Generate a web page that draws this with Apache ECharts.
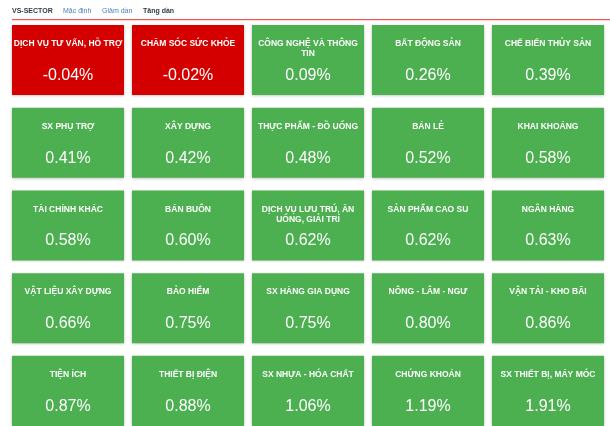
<!DOCTYPE html>
<html>
<head>
<meta charset="utf-8">
<script src="https://cdn.jsdelivr.net/npm/echarts@6/dist/echarts.min.js"></script>
<style>
  html, body { margin: 0; padding: 0; background: #fff; }
  #chart { width: 610px; height: 426px; }
</style>
</head>
<body>
<div id="chart"></div>
<script>
const headerTabs = ['VS-SECTOR', 'Mặc định', 'Giảm dần', 'Tăng dần'];
const categories = [
  'DỊCH VỤ TƯ VẤN, HỖ TRỢ', 'CHĂM SÓC SỨC KHỎE', 'CÔNG NGHỆ VÀ THÔNG\nTIN', 'BẤT ĐỘNG SẢN', 'CHẾ BIẾN THỦY SẢN',
  'SX PHỤ TRỢ', 'XÂY DỰNG', 'THỰC PHẨM - ĐỒ UỐNG', 'BÁN LẺ', 'KHAI KHOÁNG',
  'TÀI CHÍNH KHÁC', 'BÁN BUÔN', 'DỊCH VỤ LƯU TRÚ, ĂN\nUỐNG, GIẢI TRÍ', 'SẢN PHẨM CAO SU', 'NGÂN HÀNG',
  'VẬT LIỆU XÂY DỰNG', 'BẢO HIỂM', 'SX HÀNG GIA DỤNG', 'NÔNG - LÂM - NGƯ', 'VẬN TẢI - KHO BÃI',
  'TIỆN ÍCH', 'THIẾT BỊ ĐIỆN', 'SX NHỰA - HÓA CHẤT', 'CHỨNG KHOÁN', 'SX THIẾT BỊ, MÁY MÓC'
];
const values = [
  -0.04, -0.02, 0.09, 0.26, 0.39,
  0.41, 0.42, 0.48, 0.52, 0.58,
  0.58, 0.60, 0.62, 0.62, 0.63,
  0.66, 0.75, 0.75, 0.80, 0.86,
  0.87, 0.88, 1.06, 1.19, 1.91
];
const columnsPerRow = 5;

const chart = echarts.init(document.getElementById('chart'), null, { renderer: 'canvas' });
const data = values.map((v, i) => [i % columnsPerRow, Math.floor(i / columnsPerRow), v]);
const FONT = '"Liberation Sans", Arial, sans-serif';

function renderItem(params, api) {
  const c = api.coord([api.value(0), api.value(1)]);
  const s = api.size([1, 1]);
  const w = s[0] * 0.9333, h = s[1] * 0.847;
  const x = c[0] - w / 2, y = c[1] - h / 2;
  const v = api.value(2);
  const name = categories[params.dataIndex];
  return {
    type: 'group',
    children: [
      { type: 'rect', shape: { x: x, y: y, width: w, height: h },
        style: { fill: v < 0 ? '#d40000' : '#4caf50', shadowBlur: 3, shadowColor: 'rgba(0,0,0,0.28)', shadowOffsetY: 1 } },
      { type: 'text', style: { text: name, x: c[0], y: y + 14, align: 'center', verticalAlign: 'top',
        fill: '#fff', fontSize: 8.5, fontWeight: 'bold', fontFamily: FONT, lineHeight: 10 } },
      { type: 'text', style: { text: v.toFixed(2) + '%', x: c[0], y: y + 50.5, align: 'center', verticalAlign: 'middle',
        fill: '#fff', fontSize: 16, fontFamily: FONT } }
    ]
  };
}

chart.setOption({
  animation: false,
  grid: { left: 8, right: 2, top: 18.7, bottom: 0 },
  xAxis: { type: 'value', min: -0.5, max: 4.5, show: false },
  yAxis: { type: 'value', min: -0.5, max: 4.425, inverse: true, show: false },
  graphic: [
    { type: 'text', left: 12, top: 7.5, style: { text: headerTabs[0], fill: '#2e3b4a', fontSize: 7, fontWeight: 'bold', fontFamily: FONT } },
    { type: 'text', left: 63, top: 7.5, style: { text: headerTabs[1], fill: '#4b7fb7', fontSize: 7, fontFamily: FONT } },
    { type: 'text', left: 102, top: 7.5, style: { text: headerTabs[2], fill: '#4b7fb7', fontSize: 7, fontFamily: FONT } },
    { type: 'text', left: 143, top: 7.5, style: { text: headerTabs[3], fill: '#2e3b4a', fontSize: 7, fontWeight: 'bold', fontFamily: FONT } },
    { type: 'rect', left: 12, top: 19, shape: { width: 598, height: 1.2 }, style: { fill: '#f25555' } }
  ],
  series: [{
    type: 'custom',
    renderItem: renderItem,
    data: data,
    encode: { x: 0, y: 1 }
  }]
});
</script>
</body>
</html>
